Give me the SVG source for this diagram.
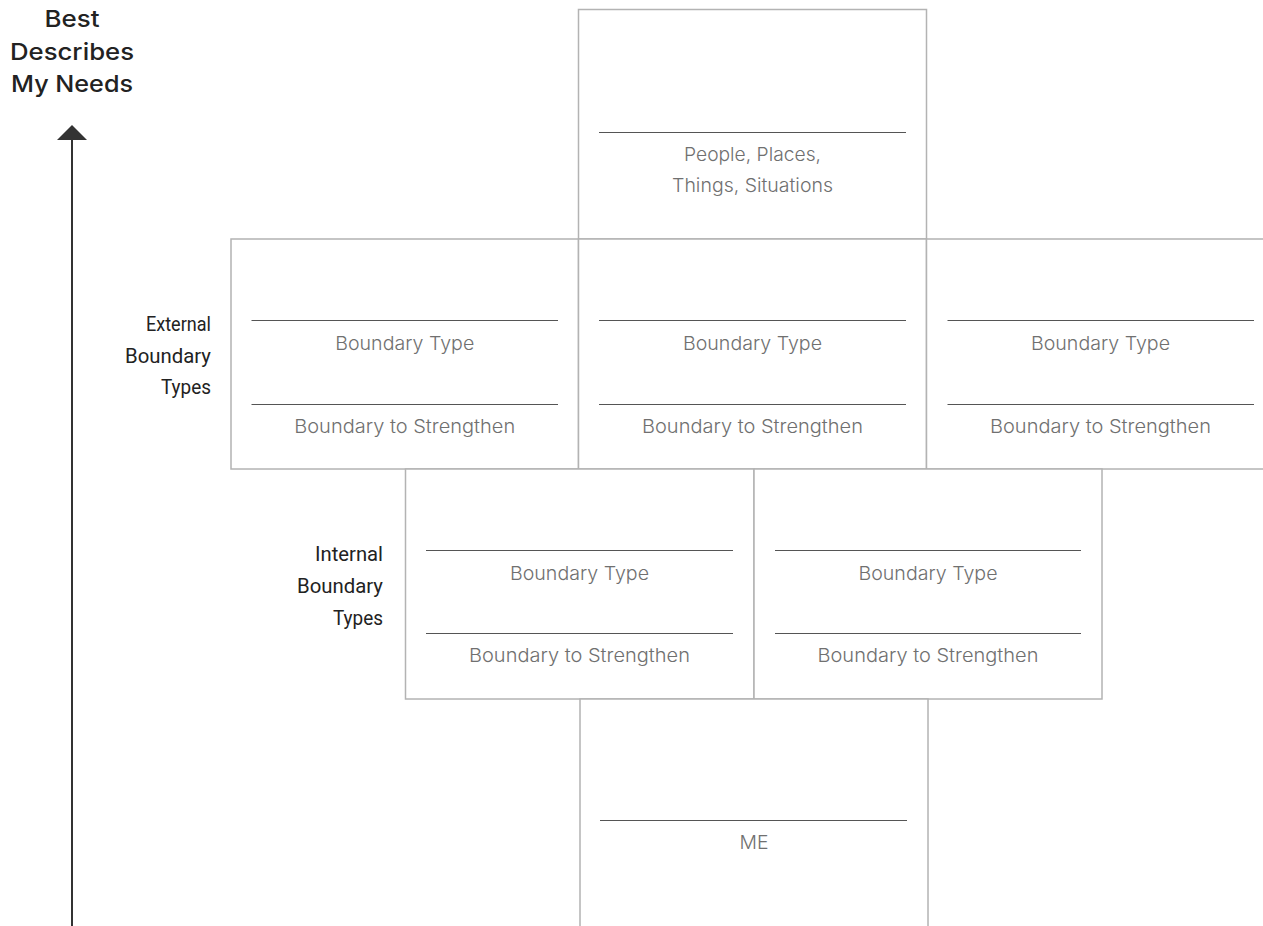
<svg xmlns="http://www.w3.org/2000/svg" width="1263" height="926" viewBox="0 0 1263 926">
<style>
.box{fill:#fff;stroke:#b3b3b3;stroke-width:1.5}
.ul{stroke:#555;stroke-width:1}
.lbl{font-family:Inter,"Liberation Sans",sans-serif;font-weight:300;font-size:18.5px;fill:#707070;text-anchor:middle}
.side{font-family:"Liberation Sans Narrow",Roboto,"Liberation Sans",sans-serif;font-size:20px;fill:#222;text-anchor:end}
.title{font-family:Inter,"Liberation Sans",sans-serif;font-weight:500;font-size:23.5px;fill:#222;text-anchor:middle}
</style>
<rect width="1263" height="926" fill="#fff"/>
<g id="axis">
<line x1="72" y1="139" x2="72" y2="926" stroke="#333" stroke-width="2"/>
<polygon points="72,125 57,140 87,140" fill="#333"/>
<text class="title" x="72" y="27" textLength="55" lengthAdjust="spacingAndGlyphs">Best</text>
<text class="title" x="72" y="60" textLength="124" lengthAdjust="spacingAndGlyphs">Describes</text>
<text class="title" x="72" y="92" textLength="122" lengthAdjust="spacingAndGlyphs">My Needs</text>
</g>
<g id="label-external">
<text class="side" x="211" y="331" textLength="65" lengthAdjust="spacingAndGlyphs">External</text>
<text class="side" x="211" y="363" textLength="86" lengthAdjust="spacingAndGlyphs">Boundary</text>
<text class="side" x="211" y="394" textLength="50" lengthAdjust="spacingAndGlyphs">Types</text>
</g>
<g id="label-internal">
<text class="side" x="383" y="561" textLength="68" lengthAdjust="spacingAndGlyphs">Internal</text>
<text class="side" x="383" y="593" textLength="86" lengthAdjust="spacingAndGlyphs">Boundary</text>
<text class="side" x="383" y="625" textLength="50" lengthAdjust="spacingAndGlyphs">Types</text>
</g>
<g id="top">
<rect class="box" x="578.5" y="9.5" width="348" height="229.5"/>
<line class="ul" x1="599" y1="132.5" x2="906" y2="132.5"/>
<text class="lbl" x="752.5" y="161" textLength="137" lengthAdjust="spacingAndGlyphs">People, Places,</text>
<text class="lbl" x="752.5" y="192" textLength="161" lengthAdjust="spacingAndGlyphs">Things, Situations</text>
</g>
<g id="ext1">
<rect class="box" x="231" y="239" width="347.5" height="230"/>
<line class="ul" x1="251.5" y1="320.5" x2="558" y2="320.5"/>
<text class="lbl" x="404.75" y="350" textLength="139" lengthAdjust="spacingAndGlyphs">Boundary Type</text>
<line class="ul" x1="251.5" y1="404.5" x2="558" y2="404.5"/>
<text class="lbl" x="404.75" y="432.5" textLength="221" lengthAdjust="spacingAndGlyphs">Boundary to Strengthen</text>
</g>
<g id="ext2">
<rect class="box" x="578.5" y="239" width="348" height="230"/>
<line class="ul" x1="599" y1="320.5" x2="906" y2="320.5"/>
<text class="lbl" x="752.5" y="350" textLength="139" lengthAdjust="spacingAndGlyphs">Boundary Type</text>
<line class="ul" x1="599" y1="404.5" x2="906" y2="404.5"/>
<text class="lbl" x="752.5" y="432.5" textLength="221" lengthAdjust="spacingAndGlyphs">Boundary to Strengthen</text>
</g>
<g id="ext3">
<rect class="box" x="926.5" y="239" width="348" height="230"/>
<line class="ul" x1="947.5" y1="320.5" x2="1254" y2="320.5"/>
<text class="lbl" x="1100.5" y="350" textLength="139" lengthAdjust="spacingAndGlyphs">Boundary Type</text>
<line class="ul" x1="947.5" y1="404.5" x2="1254" y2="404.5"/>
<text class="lbl" x="1100.5" y="432.5" textLength="221" lengthAdjust="spacingAndGlyphs">Boundary to Strengthen</text>
</g>
<g id="int1">
<rect class="box" x="405.5" y="469" width="348.5" height="230"/>
<line class="ul" x1="426" y1="550.5" x2="733" y2="550.5"/>
<text class="lbl" x="579.5" y="580" textLength="139" lengthAdjust="spacingAndGlyphs">Boundary Type</text>
<line class="ul" x1="426" y1="633.5" x2="733" y2="633.5"/>
<text class="lbl" x="579.5" y="662" textLength="221" lengthAdjust="spacingAndGlyphs">Boundary to Strengthen</text>
</g>
<g id="int2">
<rect class="box" x="754" y="469" width="348" height="230"/>
<line class="ul" x1="775" y1="550.5" x2="1081" y2="550.5"/>
<text class="lbl" x="928" y="580" textLength="139" lengthAdjust="spacingAndGlyphs">Boundary Type</text>
<line class="ul" x1="775" y1="633.5" x2="1081" y2="633.5"/>
<text class="lbl" x="928" y="662" textLength="221" lengthAdjust="spacingAndGlyphs">Boundary to Strengthen</text>
</g>
<g id="me">
<rect class="box" x="580" y="699" width="348" height="240"/>
<line class="ul" x1="600" y1="820.5" x2="907" y2="820.5"/>
<text class="lbl" x="754" y="849" textLength="29" lengthAdjust="spacingAndGlyphs">ME</text>
</g>
<g id="connectors"></g>
</svg>
